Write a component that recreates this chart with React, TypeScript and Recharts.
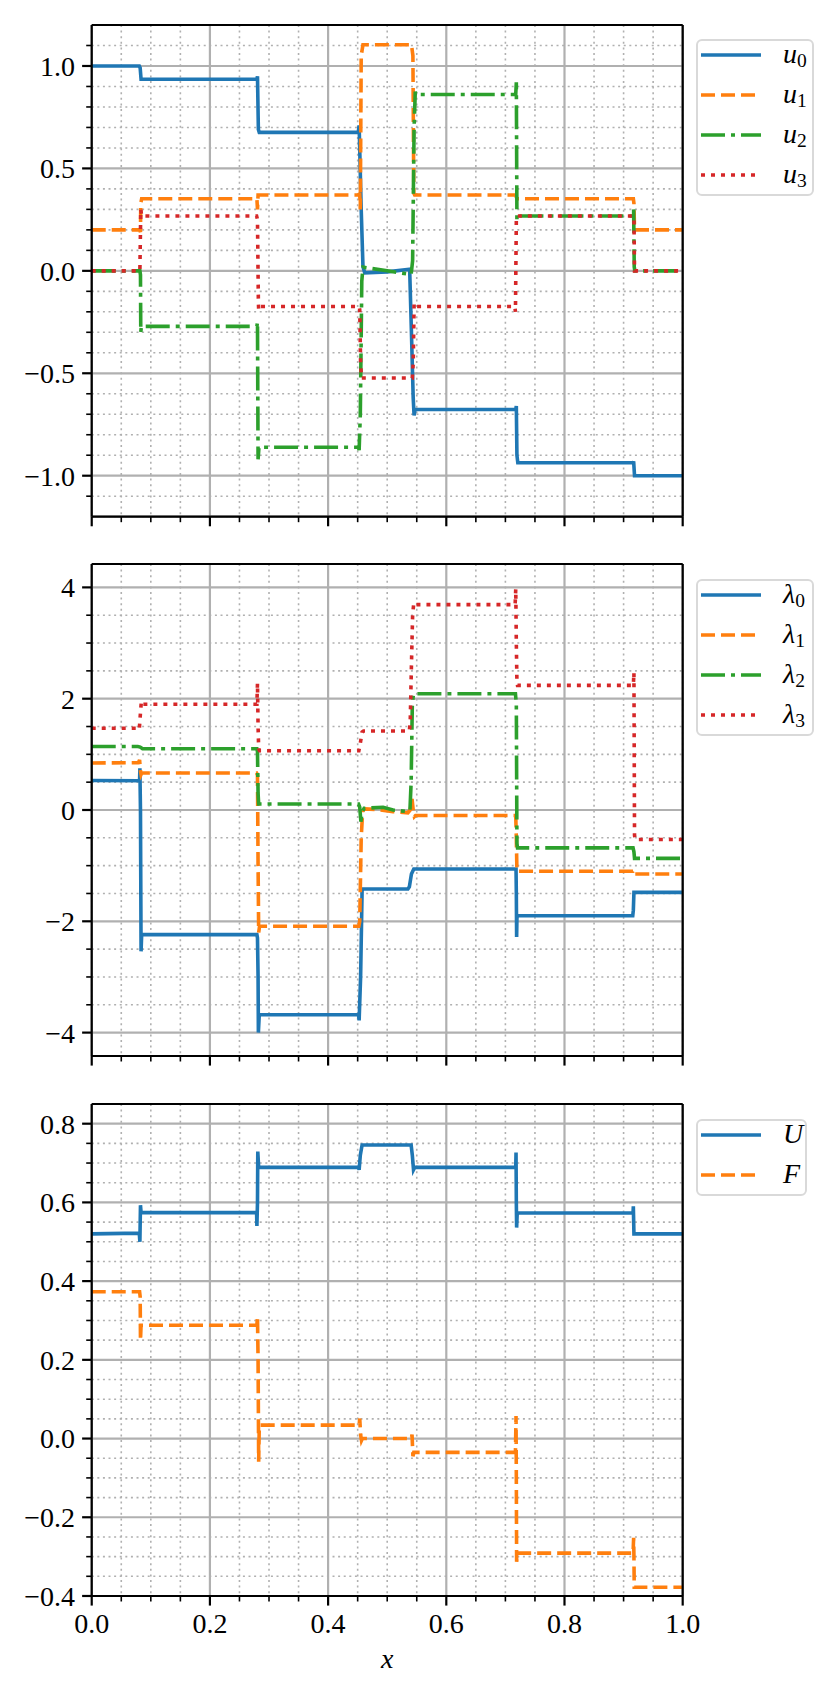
import React from 'react';
import { LineChart, Line, XAxis, YAxis, CartesianGrid } from 'recharts';

const FONT = '"Liberation Serif", "DejaVu Serif", serif';
const BLUE = '#1f77b4';
const ORANGE = '#ff7f0e';
const GREEN = '#2ca02c';
const RED = '#d62728';
const DASHED = '14 6';
const DASHDOT = '24 6 4 6';
const DOTTED = '4 6';

// ---------- x ticks ----------
const X_MAJOR = [0, 0.2, 0.4, 0.6, 0.8, 1.0];
const X_MINOR = [0.05, 0.1, 0.15, 0.25, 0.3, 0.35, 0.45, 0.5, 0.55, 0.65, 0.7, 0.75, 0.85, 0.9, 0.95];

// ---------- panel 1: u ----------
const Y1_MAJOR = [-1.0, -0.5, 0.0, 0.5, 1.0];
const Y1_MINOR = [-1.1, -0.9, -0.8, -0.7, -0.6, -0.4, -0.3, -0.2, -0.1, 0.1, 0.2, 0.3, 0.4, 0.6, 0.7, 0.8, 0.9, 1.1];
const U0: [number, number][] = [
  [0, 1.0], [0.0805, 1.0], [0.082, 0.99], [0.0835, 0.935], [0.2795, 0.935], [0.2805, 0.95], [0.282, 0.69],
  [0.2835, 0.676], [0.451, 0.676], [0.4525, 0.71], [0.456, 0.3], [0.459, 0.02], [0.462, -0.01], [0.5, -0.005],
  [0.538, 0.008], [0.541, -0.3], [0.544, -0.62], [0.5455, -0.706], [0.547, -0.677], [0.7175, -0.677],
  [0.7185, -0.66], [0.7195, -0.9], [0.721, -0.937], [0.916, -0.937], [0.917, -0.93], [0.9185, -1.0], [1, -1.0],
];
const U1: [number, number][] = [
  [0, 0.2], [0.081, 0.2], [0.0825, 0.19], [0.083, 0.33], [0.0845, 0.352], [0.2795, 0.352], [0.2805, 0.3],
  [0.2815, 0.37], [0.283, 0.37], [0.4525, 0.37], [0.4535, 0.38], [0.4545, 0.3], [0.456, 1.05], [0.459, 1.104],
  [0.541, 1.104], [0.5435, 1.05], [0.545, 0.38], [0.5465, 0.37], [0.7175, 0.37], [0.7185, 0.36], [0.72, 0.352],
  [0.9165, 0.352], [0.9175, 0.33], [0.9185, 0.2], [1, 0.2],
];
const U2: [number, number][] = [
  [0, 0], [0.0815, 0], [0.0825, -0.02], [0.083, -0.3], [0.084, -0.271], [0.2795, -0.271], [0.2805, -0.25],
  [0.2815, -0.92], [0.283, -0.861], [0.4515, -0.861], [0.4525, -0.875], [0.4545, -0.7], [0.457, -0.05],
  [0.459, 0.018], [0.5, 0.0], [0.5405, -0.018], [0.543, 0.05], [0.5455, 0.7], [0.5475, 0.875], [0.5485, 0.861],
  [0.7175, 0.861], [0.7185, 0.92], [0.7195, 0.25], [0.7205, 0.268], [0.916, 0.268], [0.917, 0.3], [0.918, 0.02],
  [0.919, 0.0], [1, 0],
];
const U3: [number, number][] = [
  [0, 0], [0.0815, 0], [0.082, 0.1], [0.083, 0.3], [0.0845, 0.268], [0.279, 0.268], [0.2805, 0.25],
  [0.282, -0.15], [0.2825, -0.19], [0.284, -0.174], [0.4525, -0.174], [0.4535, -0.19], [0.455, -0.45],
  [0.4565, -0.523], [0.5425, -0.523], [0.544, -0.45], [0.5455, -0.16], [0.547, -0.174], [0.716, -0.174],
  [0.717, -0.2], [0.7185, 0.25], [0.7195, 0.268], [0.9165, 0.268], [0.9175, 0.25], [0.9185, 0.0], [1, 0],
];

// ---------- panel 2: lambda ----------
const Y2_MAJOR = [-4, -2, 0, 2, 4];
const Y2_MINOR = [-3.5, -3, -2.5, -1.5, -1, -0.5, 0.5, 1, 1.5, 2.5, 3, 3.5];
const L0: [number, number][] = [
  [0, 0.53], [0.081, 0.526], [0.0815, 0.75], [0.0825, 0.0], [0.0835, -2.54], [0.0845, -2.24], [0.2795, -2.24],
  [0.2805, -2.3], [0.2815, -3.0], [0.282, -4.0], [0.2835, -3.68], [0.4515, -3.68], [0.4525, -3.78], [0.455, -3.0],
  [0.4575, -1.45], [0.459, -1.42], [0.535, -1.42], [0.5375, -1.38], [0.541, -1.15], [0.545, -1.06], [0.718, -1.06],
  [0.7185, -1.5], [0.719, -2.28], [0.7195, -1.95], [0.72, -1.9], [0.9155, -1.9], [0.9165, -1.8], [0.9175, -1.48],
  [1, -1.48],
];
const L1: [number, number][] = [
  [0, 0.844], [0.079, 0.85], [0.081, 0.9], [0.0825, 0.7], [0.0835, 0.64], [0.0845, 0.665], [0.279, 0.665],
  [0.2805, 0.62], [0.2815, -1.0], [0.2825, -2.2], [0.284, -2.09], [0.452, -2.09], [0.4535, -2.0], [0.456, -0.5],
  [0.4585, -0.02], [0.462, 0.02], [0.48, 0.01], [0.51, -0.03], [0.535, -0.05], [0.539, 0.0], [0.542, 0.2],
  [0.5445, -0.05], [0.546, -0.12], [0.548, -0.1], [0.7175, -0.1], [0.7185, -0.5], [0.7195, -1.1], [0.916, -1.1],
  [0.917, -1.08], [0.9185, -1.15], [1, -1.15],
];
const L2: [number, number][] = [
  [0, 1.14], [0.078, 1.14], [0.082, 1.13], [0.086, 1.1], [0.2795, 1.1], [0.2805, 1.05], [0.2815, 0.3],
  [0.2825, 0.107], [0.4515, 0.107], [0.4535, 0.05], [0.4555, -0.21], [0.4575, -0.05], [0.461, 0.03],
  [0.493, 0.05], [0.51, 0.0], [0.535, -0.03], [0.5385, 0.0], [0.5405, 0.5], [0.5425, 1.9], [0.5445, 2.09],
  [0.717, 2.09], [0.7185, 1.9], [0.7195, -0.6], [0.7205, -0.68], [0.916, -0.68], [0.9175, -0.75], [0.9185, -0.87],
  [1, -0.87],
];
const L3: [number, number][] = [
  [0, 1.47], [0.0795, 1.47], [0.0805, 1.45], [0.0825, 1.75], [0.084, 1.95], [0.086, 1.9], [0.2795, 1.9],
  [0.2805, 2.28], [0.2815, 1.5], [0.2825, 1.1], [0.284, 1.065], [0.452, 1.065], [0.4545, 1.2], [0.4575, 1.4],
  [0.46, 1.42], [0.5375, 1.42], [0.539, 1.6], [0.541, 2.6], [0.543, 3.5], [0.545, 3.72], [0.547, 3.69],
  [0.7165, 3.69], [0.7175, 3.97], [0.7185, 3.0], [0.7195, 2.3], [0.7205, 2.24], [0.9165, 2.24], [0.9175, 2.47],
  [0.918, 1.0], [0.9185, -0.45], [0.9195, -0.53], [1, -0.53],
];

// ---------- panel 3: U, F ----------
const Y3_MAJOR = [-0.4, -0.2, 0.0, 0.2, 0.4, 0.6, 0.8];
const Y3_MINOR = [-0.35, -0.3, -0.25, -0.15, -0.1, -0.05, 0.05, 0.1, 0.15, 0.25, 0.3, 0.35, 0.45, 0.5, 0.55, 0.65, 0.7, 0.75];
const UU: [number, number][] = [
  [0, 0.52], [0.0805, 0.522], [0.0815, 0.5], [0.0825, 0.593], [0.0835, 0.574], [0.279, 0.574], [0.2795, 0.54],
  [0.2805, 0.6], [0.281, 0.729], [0.2825, 0.689], [0.4515, 0.689], [0.4525, 0.683], [0.4545, 0.72],
  [0.4575, 0.746], [0.5405, 0.746], [0.5425, 0.72], [0.5445, 0.683], [0.5465, 0.689], [0.7175, 0.689],
  [0.718, 0.727], [0.7185, 0.6], [0.719, 0.536], [0.72, 0.573], [0.916, 0.573], [0.9165, 0.59], [0.9175, 0.52],
  [1, 0.52],
];
const FF: [number, number][] = [
  [0, 0.373], [0.081, 0.373], [0.082, 0.36], [0.0825, 0.249], [0.0835, 0.288], [0.2795, 0.288], [0.2805, 0.311],
  [0.2815, 0.2], [0.2825, -0.059], [0.2835, 0.03], [0.285, 0.034], [0.4525, 0.034], [0.4535, 0.051],
  [0.455, 0.01], [0.4565, -0.005], [0.458, 0.0], [0.541, 0.0], [0.542, 0.01], [0.5435, -0.045], [0.545, -0.035],
  [0.717, -0.035], [0.718, 0.057], [0.7185, -0.1], [0.719, -0.313], [0.7205, -0.291], [0.916, -0.291],
  [0.917, -0.252], [0.9175, -0.3], [0.918, -0.378], [1, -0.378],
];

type Series = { main: string; sub: string; pts: [number, number][]; color: string; dash?: string };

const SERIES1: Series[] = [
  { main: 'u', sub: '0', pts: U0, color: BLUE },
  { main: 'u', sub: '1', pts: U1, color: ORANGE, dash: DASHED },
  { main: 'u', sub: '2', pts: U2, color: GREEN, dash: DASHDOT },
  { main: 'u', sub: '3', pts: U3, color: RED, dash: DOTTED },
];
const SERIES2: Series[] = [
  { main: 'λ', sub: '0', pts: L0, color: BLUE },
  { main: 'λ', sub: '1', pts: L1, color: ORANGE, dash: DASHED },
  { main: 'λ', sub: '2', pts: L2, color: GREEN, dash: DASHDOT },
  { main: 'λ', sub: '3', pts: L3, color: RED, dash: DOTTED },
];
const SERIES3: Series[] = [
  { main: 'U', sub: '', pts: UU, color: BLUE },
  { main: 'F', sub: '', pts: FF, color: ORANGE, dash: DASHED },
];

const minus = (s: string) => s.replace('-', '\u2212');
const fmt1 = (v: number) => minus(v.toFixed(1));
const fmt0 = (v: number) => minus(v.toFixed(0));
const blank = () => '';

const LW = 3.6;
const TICK_STYLE = { fontSize: 28, fill: '#000', fontFamily: FONT };
const TINY = 0.01;

type PanelProps = {
  top: number;
  height: number;
  mt: number;
  mb: number;
  yDomain: [number, number];
  yMajor: number[];
  yMinor: number[];
  fmt: (v: number) => string;
  series: Series[];
  showX: boolean;
};

function Panel({ top, height, mt, mb, yDomain, yMajor, yMinor, fmt, series, showX }: PanelProps) {
  return (
    <div style={{ position: 'absolute', left: 0, top, width: 832, height }}>
      <LineChart width={832} height={height} margin={{ top: mt, right: 149.3, bottom: mb, left: 91.7 }}>
        <CartesianGrid xAxisId="minor" yAxisId="minor" stroke="#b0b0b0" strokeWidth={1.6} strokeDasharray="2 3.6" />
        <CartesianGrid stroke="#b0b0b0" strokeWidth={2.2} />
        <XAxis
          xAxisId="minor" type="number" dataKey="x" domain={[0, 1]} ticks={X_MINOR} allowDataOverflow interval={0}
          height={TINY} tick={TICK_STYLE} tickFormatter={blank} axisLine={false} tickSize={5.5}
          tickLine={{ stroke: '#000', strokeWidth: 1.6 }}
        />
        <XAxis
          xAxisId="top" orientation="top" type="number" dataKey="x" domain={[0, 1]} allowDataOverflow
          ticks={[0, 1]} height={TINY} tick={TICK_STYLE} tickFormatter={blank} tickLine={false}
          axisLine={{ stroke: '#000', strokeWidth: 2.2 }}
        />
        <XAxis
          type="number" dataKey="x" domain={[0, 1]} ticks={X_MAJOR} allowDataOverflow interval={0}
          height={TINY} tickSize={9.6} tickMargin={7.5}
          tick={TICK_STYLE}
          tickFormatter={showX ? fmt1 : blank}
          axisLine={{ stroke: '#000', strokeWidth: 2.2 }} tickLine={{ stroke: '#000', strokeWidth: 2.2 }}
          label={showX ? { value: 'x', position: 'bottom', offset: 52, fontSize: 28, fontStyle: 'italic', fill: '#000', fontFamily: FONT } : undefined}
        />
        <YAxis
          yAxisId="minor" type="number" domain={yDomain} ticks={yMinor} allowDataOverflow interval={0}
          width={TINY} tick={TICK_STYLE} tickFormatter={blank} axisLine={false} tickSize={5.5}
          tickLine={{ stroke: '#000', strokeWidth: 1.6 }}
        />
        <YAxis
          yAxisId="right" orientation="right" type="number" domain={yDomain} allowDataOverflow
          ticks={yDomain} width={TINY} tick={TICK_STYLE} tickFormatter={blank} tickLine={false}
          axisLine={{ stroke: '#000', strokeWidth: 2.2 }}
        />
        <YAxis
          type="number" domain={yDomain} ticks={yMajor} allowDataOverflow interval={0}
          width={TINY} tickSize={9.6} tickMargin={7} tick={TICK_STYLE} tickFormatter={fmt}
          axisLine={{ stroke: '#000', strokeWidth: 2.2 }} tickLine={{ stroke: '#000', strokeWidth: 2.2 }}
        />
        {series.map((s) => (
          <Line
            key={s.main + s.sub}
            data={s.pts.map(([x, y]) => ({ x, y }))}
            dataKey="y"
            type="linear"
            stroke={s.color}
            strokeWidth={LW}
            strokeDasharray={s.dash}
            dot={false}
            activeDot={false}
            isAnimationActive={false}
            name={s.main + s.sub}
          />
        ))}
      </LineChart>
    </div>
  );
}

function LegendBox({ left, top, width, series }: { left: number; top: number; width: number; series: Series[] }) {
  const height = 16 + 40 * (series.length - 1) + 21;
  return (
    <div style={{ position: 'absolute', left, top, width, height }}>
      <div
        style={{
          position: 'absolute', left: 0, top: 0, width, height, boxSizing: 'border-box',
          border: '2px solid #d9d9d9', borderRadius: 6, background: 'rgba(255,255,255,0.8)',
        }}
      />
      {series.map((s, i) => {
        const cy = 16 + 40 * i;
        return (
          <React.Fragment key={i}>
            <svg style={{ position: 'absolute', left: 5, top: cy - 5 }} width={60} height={10}>
              <line x1={0} y1={5} x2={60} y2={5} stroke={s.color} strokeWidth={LW} strokeDasharray={s.dash} />
            </svg>
            <div
              style={{
                position: 'absolute', left: 87, top: cy - 21, height: 40, lineHeight: '40px',
                fontFamily: FONT, fontSize: 28, whiteSpace: 'nowrap', color: '#000',
              }}
            >
              <span style={{ fontStyle: 'italic' }}>{s.main}</span>
              {s.sub ? <span style={{ fontSize: 19.5, position: 'relative', top: 4 }}>{s.sub}</span> : null}
            </div>
          </React.Fragment>
        );
      })}
    </div>
  );
}

export default function App() {
  return (
    <div style={{ position: 'absolute', left: 0, top: 0, width: 832, height: 1690, background: '#fff' }}>
      <Panel top={0} height={540} mt={25} mb={23.3} yDomain={[-1.2, 1.2]} yMajor={Y1_MAJOR} yMinor={Y1_MINOR} fmt={fmt1} series={SERIES1} showX={false} />
      <Panel top={540} height={540} mt={24} mb={24} yDomain={[-4.42, 4.42]} yMajor={Y2_MAJOR} yMinor={Y2_MINOR} fmt={fmt0} series={SERIES2} showX={false} />
      <Panel top={1080} height={610} mt={24} mb={94} yDomain={[-0.4, 0.85]} yMajor={Y3_MAJOR} yMinor={Y3_MINOR} fmt={fmt1} series={SERIES3} showX={true} />
      <LegendBox left={696} top={39} width={118} series={SERIES1} />
      <LegendBox left={696} top={579} width={118} series={SERIES2} />
      <LegendBox left={696} top={1119} width={111} series={SERIES3} />
    </div>
  );
}
